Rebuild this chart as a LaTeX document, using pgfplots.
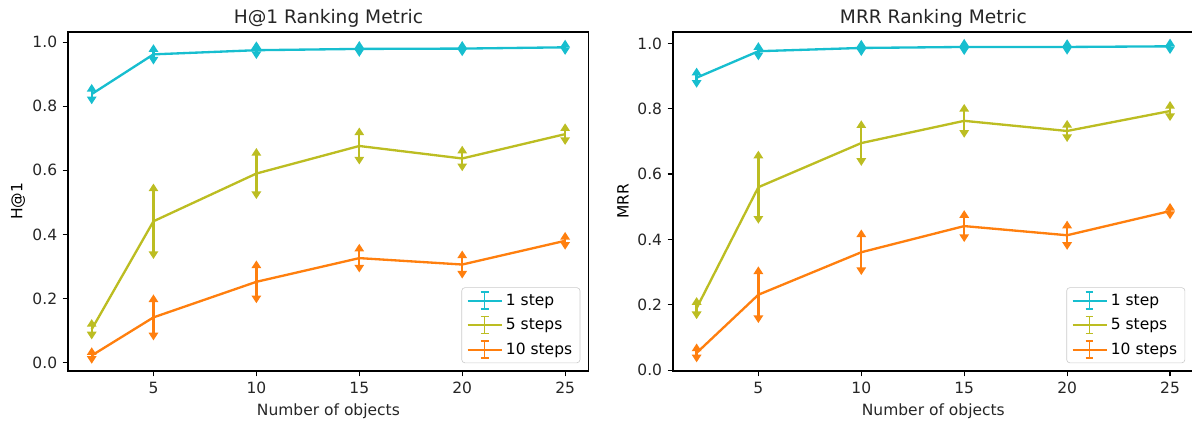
\documentclass[border=0pt]{standalone}
\usepackage{pgfplots}
\pgfplotsset{compat=1.18}
\usepackage{pgfplotstable}
\usepackage{fontspec}
\setmainfont{DejaVu Sans}
\usetikzlibrary{arrows.meta}

\definecolor{tabcyan}{RGB}{23,190,207}
\definecolor{tabolive}{RGB}{188,189,34}
\definecolor{taborange}{RGB}{255,127,14}

% H@1: mean and spread per number of objects
\pgfplotstableread{
x  y     e
2  0.838 0.032
5  0.962 0.032
10 0.975 0.028
15 0.979 0.025
20 0.980 0.024
25 0.984 0.024
}\hOneA
\pgfplotstableread{
x  y     e
2  0.104 0.032
5  0.441 0.118
10 0.590 0.080
15 0.676 0.058
20 0.637 0.040
25 0.713 0.034
}\hOneB
\pgfplotstableread{
x  y     e
2  0.022 0.026
5  0.141 0.072
10 0.252 0.067
15 0.326 0.045
20 0.306 0.044
25 0.380 0.028
}\hOneC

% MRR: mean and spread per number of objects
\pgfplotstableread{
x  y     e
2  0.895 0.031
5  0.976 0.028
10 0.986 0.025
15 0.989 0.025
20 0.989 0.024
25 0.991 0.024
}\mrrA
\pgfplotstableread{
x  y     e
2  0.190 0.034
5  0.560 0.112
10 0.695 0.070
15 0.763 0.052
20 0.732 0.034
25 0.793 0.031
}\mrrB
\pgfplotstableread{
x  y     e
2  0.053 0.029
5  0.231 0.087
10 0.361 0.070
15 0.441 0.049
20 0.413 0.045
25 0.487 0.025
}\mrrC

\pgfplotsset{
  panel/.style={
    scale only axis, width=336pt, height=218.7pt,
    xmin=0.85, xmax=26.15,
    xtick={5,10,15,20,25},
    ytick={0,0.2,0.4,0.6,0.8,1},
    tick pos=left, tick align=outside, major tick length=3.5pt,
    every tick/.style={black, line width=0.8pt},
    axis line style={line width=0.8pt},
    /pgf/number format/assume math mode=true,
    y tick label style={/pgf/number format/fixed, /pgf/number format/fixed zerofill,
      /pgf/number format/precision=1},
    tick label style={font=\fontsize{10}{12}\selectfont, text=black!85},
    label style={font=\fontsize{10}{12}\selectfont, text=black!85},
    every axis y label/.style={at={(axis description cs:-0.096,0.5)}, rotate=90, anchor=center},
    every axis title/.style={at={(axis description cs:0.5,1)}, anchor=base, yshift=5.2pt,
      font=\fontsize{12}{14}\selectfont, text=black!85},
    xlabel={Number of objects},
    legend cell align=left,
    legend style={at={(1,0)}, anchor=south east, xshift=-5.5pt, yshift=5pt,
      draw=black!20, rounded corners=2pt, fill=white, fill opacity=0.8, text opacity=1,
      font=\fontsize{10}{12}\selectfont, row sep=3pt},
  },
  ebar/.style={color=#1, line width=1.5pt, mark=none,
    legend image code/.code={
      \draw[line width=1.5pt] (0pt,0pt) -- (22pt,0pt);
      \draw[line width=1pt] (11pt,-5.5pt) -- (11pt,5.5pt);
      \draw[line width=1pt] (8.5pt,-5.5pt) -- (13.5pt,-5.5pt) (8.5pt,5.5pt) -- (13.5pt,5.5pt);
    },
    error bars/.cd, y dir=both, y explicit, error mark=none,
    error bar style={line width=1.5pt, -{Triangle[width=6pt,length=5pt]}}},
}

\begin{document}
\begin{tikzpicture}
\useasboundingbox (-43.9pt,-32.3pt) rectangle (725.2pt,239.3pt);
\begin{axis}[panel, at={(0pt,0pt)}, anchor=south west,
  ymin=-0.026, ymax=1.032, ylabel={H@1}, title={H@1 Ranking Metric}]
  \addplot[ebar=tabcyan] table[x=x, y=y, y error=e] {\hOneA};
  \addlegendentry{1 step}
  \addplot[ebar=tabolive] table[x=x, y=y, y error=e] {\hOneB};
  \addlegendentry{5 steps}
  \addplot[ebar=taborange] table[x=x, y=y, y error=e] {\hOneC};
  \addlegendentry{10 steps}
\end{axis}
\begin{axis}[panel, at={(390.3pt,0pt)}, anchor=south west,
  ymin=-0.002, ymax=1.035, ylabel={MRR}, title={MRR Ranking Metric}]
  \addplot[ebar=tabcyan] table[x=x, y=y, y error=e] {\mrrA};
  \addlegendentry{1 step}
  \addplot[ebar=tabolive] table[x=x, y=y, y error=e] {\mrrB};
  \addlegendentry{5 steps}
  \addplot[ebar=taborange] table[x=x, y=y, y error=e] {\mrrC};
  \addlegendentry{10 steps}
\end{axis}
\end{tikzpicture}
\end{document}
